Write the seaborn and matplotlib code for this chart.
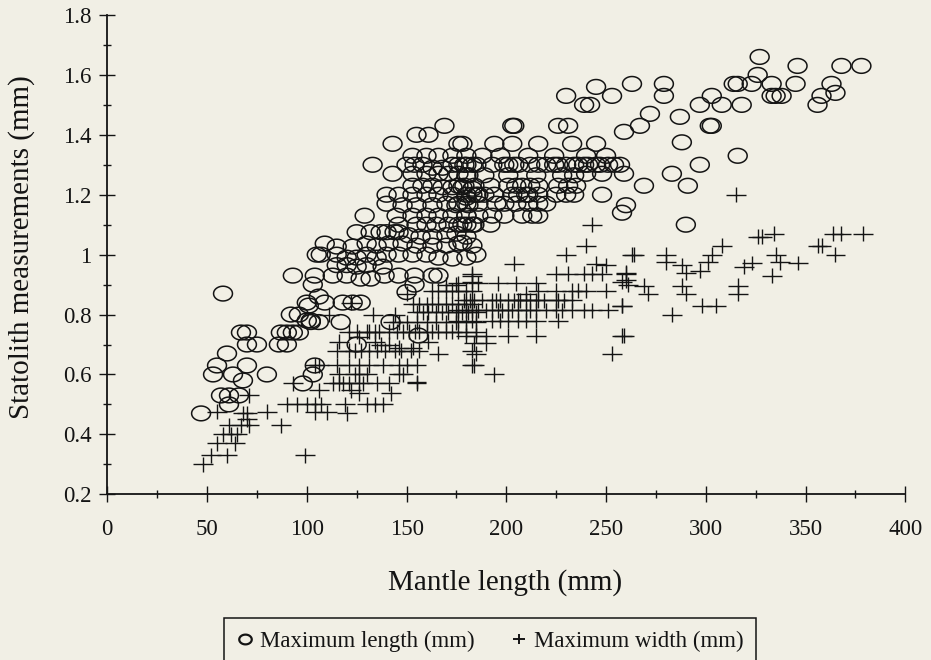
import numpy as np
import pandas as pd
import matplotlib
matplotlib.use("Agg")
import matplotlib.pyplot as plt
import seaborn as sns
from matplotlib.path import Path
from matplotlib.ticker import MultipleLocator, FuncFormatter
from matplotlib.lines import Line2D

# ---------------- data ----------------
length_x = [
    47, 53, 55, 57, 61, 61, 66, 60, 63, 68, 70, 80, 58, 67, 70, 70, 75, 86, 90, 87,
    90, 93, 96, 92, 96, 100, 102, 93, 98, 103, 103, 101, 104, 105, 106,
    102, 106, 109, 100, 117, 118, 123, 127, 125, 142, 150, 154, 156, 113, 120,
    127, 132, 139, 146, 154, 163, 166, 104,
    169, 155, 161, 143, 176, 133, 143,
    153, 160, 166, 173, 180,
    150, 154, 158, 163, 168, 173, 179, 183,
    153, 160, 166, 171, 176, 181,
    153, 158, 163, 168, 173, 178, 183,
    140, 146, 153, 160, 166, 173, 180, 185,
    148, 155, 163, 170, 175, 181,
    129, 145, 153, 160, 166, 173, 180,
    146, 155, 160, 165, 171, 178, 183,
    125, 132, 137, 140, 144, 146, 151, 157, 163, 170, 175, 180,
    109, 115, 123, 130, 135, 141, 148, 155, 163, 170, 176, 183,
    107, 115, 120, 125, 130, 135, 140, 146, 153, 160, 166, 173, 180,
    115, 120, 125, 130, 138, 140,
    230, 245, 239, 242, 253,
    203, 204, 226, 231,
    178, 194, 203, 216, 233, 245,
    188, 197, 211, 224, 240, 250,
    176, 180, 185, 193, 199, 201, 204, 206, 212, 216, 220, 224, 226, 230, 234, 236,
    239, 241, 245, 247, 251, 254,
    240, 248, 180, 189, 201, 215, 228, 234,
    176, 179, 184, 192, 201, 205, 208, 212, 216, 226, 231, 235,
    180, 183, 186, 189, 194, 203, 206, 210, 211, 216, 225, 230, 234, 248,
    176, 180, 186, 195, 199, 205, 211, 216, 220,
    180, 186, 193, 199, 208, 213, 216,
    176, 180, 184, 192,
    178, 185,
    327, 346, 368, 378, 326, 314, 316, 323, 333, 345, 363, 263, 279, 279, 333, 335,
    338, 365, 358, 303, 356, 297, 308, 318, 272, 287, 267, 302, 303, 259, 288, 316,
    297, 283, 257, 259, 269, 291, 260, 258, 290,
]
length_y = [
    0.47, 0.60, 0.63, 0.53, 0.53, 0.50, 0.53, 0.67, 0.60, 0.58, 0.63, 0.60, 0.87, 0.74, 0.74, 0.70, 0.70, 0.70, 0.70, 0.74,
    0.74, 0.74, 0.74, 0.80, 0.80, 0.78, 0.78, 0.93, 0.57, 0.60, 0.90, 0.83, 0.93, 1.00, 0.86,
    0.775, 0.775, 0.84, 0.84, 0.775, 0.84, 0.84, 0.84, 0.70, 0.775, 0.875, 0.90, 0.73, 0.93, 0.93,
    0.92, 0.92, 0.93, 0.93, 0.93, 0.93, 0.93, 0.63,
    1.43, 1.40, 1.40, 1.37, 1.37, 1.30, 1.27,
    1.33, 1.33, 1.33, 1.33, 1.33,
    1.30, 1.30, 1.30, 1.29, 1.29, 1.30, 1.30, 1.30,
    1.27, 1.27, 1.27, 1.27, 1.27, 1.265,
    1.23, 1.23, 1.23, 1.225, 1.225, 1.225, 1.22,
    1.20, 1.20, 1.20, 1.20, 1.20, 1.20, 1.19, 1.20,
    1.165, 1.165, 1.165, 1.17, 1.165, 1.165,
    1.13, 1.13, 1.13, 1.13, 1.13, 1.13, 1.13,
    1.10, 1.10, 1.10, 1.10, 1.10, 1.10, 1.10,
    1.075, 1.075, 1.075, 1.075, 1.075, 1.075, 1.065, 1.06, 1.06, 1.065, 1.07, 1.06,
    1.037, 1.027, 1.027, 1.037, 1.03, 1.037, 1.037, 1.03, 1.03, 1.03, 1.037, 1.03,
    1.00, 1.00, 0.99, 0.99, 1.00, 0.99, 1.00, 1.00, 1.00, 1.00, 0.99, 0.987, 0.99,
    0.965, 0.965, 0.96, 0.965, 0.96, 1.17,
    1.53, 1.56, 1.50, 1.50, 1.53,
    1.43, 1.43, 1.43, 1.43,
    1.37, 1.37, 1.37, 1.37, 1.37, 1.37,
    1.33, 1.33, 1.33, 1.33, 1.33, 1.33,
    1.30, 1.30, 1.30, 1.30, 1.30, 1.30, 1.30, 1.30, 1.30, 1.30, 1.30, 1.30, 1.30, 1.30, 1.30, 1.30,
    1.30, 1.30, 1.30, 1.30, 1.30, 1.30,
    1.27, 1.27, 1.265, 1.265, 1.265, 1.265, 1.265, 1.265,
    1.23, 1.23, 1.23, 1.23, 1.23, 1.23, 1.23, 1.23, 1.23, 1.23, 1.23, 1.23,
    1.20, 1.20, 1.20, 1.20, 1.20, 1.20, 1.20, 1.20, 1.20, 1.20, 1.20, 1.20, 1.20, 1.20,
    1.17, 1.17, 1.17, 1.17, 1.17, 1.17, 1.17, 1.17, 1.17,
    1.13, 1.13, 1.13, 1.13, 1.13, 1.13, 1.13,
    1.10, 1.10, 1.10, 1.10,
    1.04, 1.00,
    1.66, 1.63, 1.63, 1.63, 1.60, 1.57, 1.57, 1.57, 1.57, 1.57, 1.57, 1.57, 1.57, 1.53, 1.53, 1.53,
    1.53, 1.54, 1.53, 1.53, 1.50, 1.50, 1.50, 1.50, 1.47, 1.46, 1.43, 1.43, 1.43, 1.41, 1.375, 1.33,
    1.30, 1.27, 1.30, 1.27, 1.23, 1.23, 1.165, 1.14, 1.10,
]

width_x = [
    48, 52, 60, 55, 64, 58, 62, 65, 61, 67, 71, 87, 68, 70, 55, 70, 80, 90, 95, 100,
    104, 71, 93, 104, 99,
    183, 183, 175, 170,
    163, 166, 170, 173, 176, 180, 183,
    150, 122,
    153, 156, 160, 163, 166, 170, 173, 176, 180, 183,
    111, 133, 144,
    155, 158, 161, 165, 168, 171, 175, 178, 181, 185,
    143, 146, 150, 155, 160, 165, 170, 175, 180, 185,
    121, 125, 130, 131, 134, 136, 141, 145, 148, 151, 154, 156, 160, 163, 166, 170, 173, 176, 180, 185,
    116, 126, 134, 137, 141, 146, 153, 161, 166,
    183, 184,
    115, 121, 124, 127, 131, 135, 139, 144, 147, 152, 156,
    106, 115, 121, 126, 131, 138, 146, 150, 155,
    116, 124, 126, 130, 155, 146, 148,
    113, 116, 118, 121, 126, 128, 135, 141, 155,
    106, 122, 126, 142,
    107, 119, 130, 134, 138,
    104, 110, 120,
    240, 230, 263, 204, 245, 250, 183,
    225, 231, 239, 243, 248, 260,
    176, 186, 196, 205, 215,
    210, 216, 225, 233, 236, 240, 250, 258, 261,
    179, 182, 184, 188, 193, 195, 197, 201, 204, 206, 207, 210, 212, 215, 216, 219, 225, 226, 229, 233,
    258,
    176, 180, 183, 186, 190, 193, 196, 198, 201, 203, 206, 210, 212, 215, 220, 225, 228, 233, 239, 243, 251,
    176, 183, 193, 197, 201, 206, 210, 215, 226,
    180, 185, 190, 201, 215, 259,
    184, 190, 185, 253, 183, 194, 243,
    315, 326, 328, 334, 364, 368, 379, 356, 358, 365, 308, 303, 301, 280, 280, 264,
    288, 290, 297, 319, 323, 335, 337, 346, 333, 316, 316, 260, 260, 269, 271, 288,
    290, 298, 305, 258, 283, 258,
]
width_y = [
    0.30, 0.33, 0.33, 0.37, 0.37, 0.40, 0.40, 0.40, 0.43, 0.43, 0.43, 0.43, 0.47, 0.45, 0.476, 0.47, 0.476, 0.50, 0.50, 0.50,
    0.50, 0.53, 0.57, 0.63, 0.33,
    0.93, 0.91, 0.90, 0.90,
    0.88, 0.88, 0.88, 0.88, 0.88, 0.88, 0.88,
    0.87, 0.84,
    0.835, 0.835, 0.835, 0.835, 0.835, 0.835, 0.835, 0.835, 0.835, 0.835,
    0.80, 0.80, 0.80,
    0.808, 0.808, 0.808, 0.808, 0.808, 0.808, 0.808, 0.808, 0.808, 0.808,
    0.775, 0.775, 0.775, 0.775, 0.775, 0.775, 0.775, 0.775, 0.775, 0.775,
    0.742, 0.742, 0.742, 0.742, 0.742, 0.742, 0.742, 0.742, 0.742, 0.742,
    0.742, 0.742, 0.742, 0.742, 0.742, 0.742, 0.742, 0.742, 0.742, 0.742,
    0.71, 0.725, 0.71, 0.70, 0.70, 0.69, 0.69, 0.71, 0.67,
    0.68, 0.63,
    0.68, 0.68, 0.68, 0.68, 0.68, 0.68, 0.68, 0.68, 0.68, 0.68, 0.68,
    0.63, 0.63, 0.63, 0.63, 0.63, 0.63, 0.63, 0.63, 0.63,
    0.60, 0.60, 0.60, 0.60, 0.575, 0.60, 0.60,
    0.57, 0.57, 0.57, 0.57, 0.57, 0.57, 0.57, 0.57, 0.57,
    0.547, 0.547, 0.537, 0.537,
    0.50, 0.50, 0.50, 0.50, 0.50,
    0.474, 0.474, 0.47,
    1.03, 1.00, 1.00, 0.97, 0.97, 0.965, 0.937,
    0.937, 0.937, 0.937, 0.937, 0.937, 0.937,
    0.904, 0.904, 0.904, 0.904, 0.904,
    0.87, 0.88, 0.88, 0.88, 0.88, 0.88, 0.88, 0.91, 0.90,
    0.848, 0.848, 0.848, 0.848, 0.848, 0.848, 0.848, 0.848, 0.848, 0.848,
    0.848, 0.848, 0.848, 0.848, 0.848, 0.848, 0.848, 0.848, 0.848, 0.848,
    0.83,
    0.815, 0.815, 0.815, 0.815, 0.815, 0.815, 0.815, 0.815, 0.815, 0.815, 0.815,
    0.815, 0.815, 0.815, 0.815, 0.815, 0.815, 0.815, 0.815, 0.815, 0.815,
    0.78, 0.78, 0.78, 0.78, 0.78, 0.78, 0.78, 0.78, 0.78,
    0.73, 0.73, 0.73, 0.73, 0.73, 0.73,
    0.704, 0.704, 0.67, 0.67, 0.63, 0.60, 1.10,
    1.20, 1.06, 1.06, 1.07, 1.07, 1.07, 1.07, 1.03, 1.03, 1.00, 1.03, 1.00, 0.975, 1.00, 0.975, 1.00,
    0.965, 0.94, 0.947, 0.96, 0.972, 1.00, 0.975, 0.972, 0.93, 0.897, 0.87, 0.94, 0.914, 0.897, 0.87, 0.897,
    0.87, 0.83, 0.83, 0.83, 0.80, 0.73,
]

series_labels = ["Maximum length (mm)", "Maximum width (mm)"]
x_label = "Mantle length (mm)"
y_label = "Statolith measurements (mm)"

assert len(length_x) == len(length_y), (len(length_x), len(length_y))
assert len(width_x) == len(width_y), (len(width_x), len(width_y))

df_len = pd.DataFrame({"mantle": length_x, "value": length_y})
df_wid = pd.DataFrame({"mantle": width_x, "value": width_y})

# ---------------- style ----------------
sns.set_theme(style="ticks")
plt.rcParams["font.family"] = ["Liberation Serif", "DejaVu Serif"]

BG = "#f1efe5"
INK = "#141414"

fig = plt.figure(figsize=(9.31, 6.6), dpi=100, facecolor=BG)
ax = fig.add_axes([107.3 / 931, 1 - 494.3 / 660, 798 / 931, 479.3 / 660])
ax.set_facecolor(BG)

t = np.linspace(0, 2 * np.pi, 73)
ellipse = Path(np.column_stack([np.cos(t), 0.78 * np.sin(t)]), closed=True)
plus = Path([[-1, 0], [1, 0], [0, -0.75], [0, 0.75]],
            [Path.MOVETO, Path.LINETO, Path.MOVETO, Path.LINETO])

sns.scatterplot(data=df_len, x="mantle", y="value", marker=ellipse, s=185,
                color=INK, facecolor="none", edgecolor=INK, linewidth=1.1,
                ax=ax, legend=False, clip_on=False)
sns.scatterplot(data=df_wid, x="mantle", y="value", marker=plus, s=205,
                color=INK, facecolor="none", edgecolor=INK, linewidth=1.0,
                ax=ax, legend=False, clip_on=False)

ax.set_xlim(0, 400)
ax.set_ylim(0.2, 1.8)
ax.xaxis.set_major_locator(MultipleLocator(50))
ax.xaxis.set_minor_locator(MultipleLocator(25))
ax.yaxis.set_major_locator(MultipleLocator(0.2))
ax.yaxis.set_minor_locator(MultipleLocator(0.1))
ax.yaxis.set_major_formatter(FuncFormatter(lambda v, p: f"{v:g}"))
ax.xaxis.set_major_formatter(FuncFormatter(lambda v, p: f"{v:g}"))

for s in ["top", "right"]:
    ax.spines[s].set_visible(False)
for s in ["left", "bottom"]:
    ax.spines[s].set_color(INK)
    ax.spines[s].set_linewidth(1.3)

ax.tick_params(which="major", direction="inout", length=11, width=1.0, color=INK,
               labelsize=16.5, labelcolor=INK)
ax.tick_params(axis="x", which="major", pad=12)
ax.tick_params(axis="y", which="major", pad=6)
ax.tick_params(which="minor", direction="inout", length=6, width=1.0, color=INK)
ax.set_xlabel("")
ax.set_ylabel("")

fig.text(22 / 931, 1 - 247 / 660, y_label, rotation=90, ha="center", va="center",
         fontsize=21, color=INK)
fig.text(505 / 931, 1 - 583 / 660, x_label, ha="center", va="center",
         fontsize=21, color=INK)

handles = [
    Line2D([], [], marker=ellipse, ls="none", mfc="none", mec=INK, mew=1.6, ms=9),
    Line2D([], [], marker=plus, ls="none", mfc="none", mec=INK, mew=1.4, ms=9),
]
leg = fig.legend(handles, series_labels, loc="center",
                 bbox_to_anchor=(490 / 931, 1 - 641 / 660), ncol=2,
                 frameon=True, fancybox=False, edgecolor=INK, facecolor=BG,
                 framealpha=1, fontsize=16.5, handlelength=0.7,
                 handletextpad=0.3, columnspacing=1.6, borderpad=0.55)
leg.get_frame().set_linewidth(1.1)
for txt in leg.get_texts():
    txt.set_color(INK)

fig.savefig("out.png", dpi=100, facecolor=BG)
